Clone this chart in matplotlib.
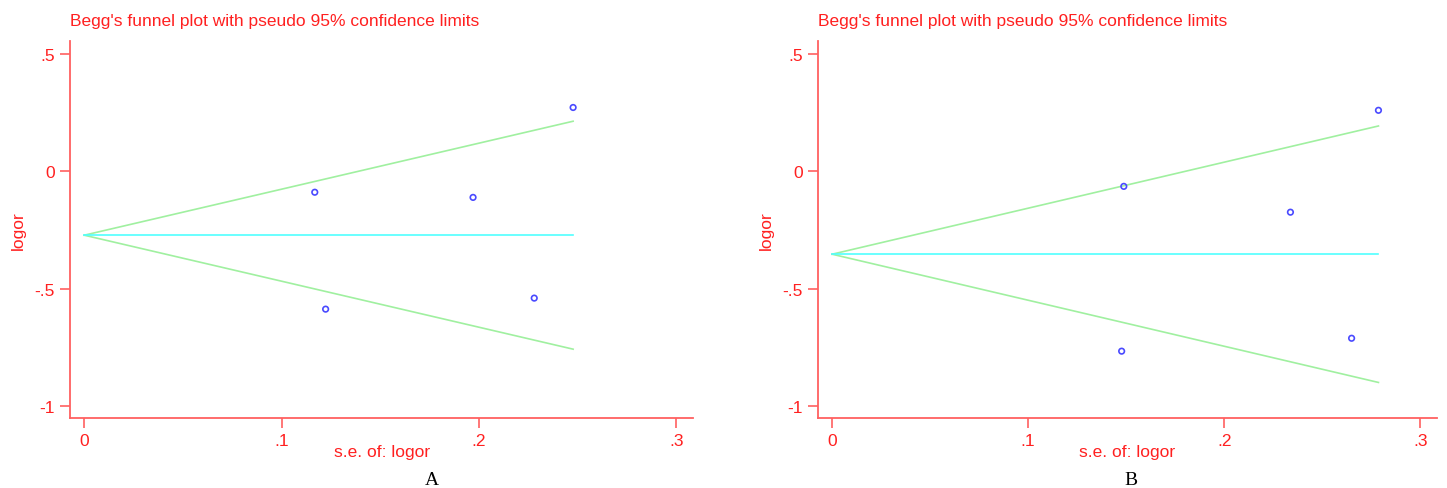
import matplotlib.pyplot as plt

# 两组研究：标准误 与 logor
se_a = [0.1168, 0.1223, 0.197, 0.228, 0.2477]
logor_a = [-0.089, -0.587, -0.111, -0.540, 0.272]
pooled_a = -0.272

se_b = [0.1477, 0.1488, 0.2338, 0.265, 0.2787]
logor_b = [-0.766, -0.064, -0.174, -0.711, 0.260]
pooled_b = -0.353

x_ticks = [0, 0.1, 0.2, 0.3]
x_labels = ["0", ".1", ".2", ".3"]
y_ticks = [-1, -0.5, 0, 0.5]
y_labels = ["-1", "-.5", "0", ".5"]

RED = "#ff2020"
SPINE = "#ff6060"
plt.rcParams['font.family'] = ['Liberation Sans', 'DejaVu Sans']

fig = plt.figure(figsize=(14.47, 4.89), dpi=100)
panels = [
    (se_a, logor_a, pooled_a, [0.0484, 0.143, 0.4306, 0.771], "A", 0.2985),
    (se_b, logor_b, pooled_b, [0.5653, 0.143, 0.4277, 0.771], "B", 0.7815),
]

for se, logor, pooled, rect, tag, tag_x in panels:
    ax = fig.add_axes(rect)
    smax = max(se)
    # 伪 95% 置信限
    ax.plot([0, smax], [pooled, pooled + 1.96 * smax], color="#a0f0a0", lw=1.2)
    ax.plot([0, smax], [pooled, pooled - 1.96 * smax], color="#a0f0a0", lw=1.2)
    ax.plot([0, smax], [pooled, pooled], color="#50ffff", lw=1.2)
    ax.scatter(se, logor, s=16, facecolors="none", edgecolors="#4a4aff", linewidths=1.2, zorder=3)

    ax.set_xlim(-0.0072, 0.3085)
    ax.set_ylim(-1.051, 0.555)
    ax.set_xticks(x_ticks)
    ax.set_xticklabels(x_labels)
    ax.set_yticks(y_ticks)
    ax.set_yticklabels(y_labels)
    for s in ["top", "right"]:
        ax.spines[s].set_visible(False)
    for s in ["left", "bottom"]:
        ax.spines[s].set_color(SPINE)
        ax.spines[s].set_linewidth(1.3)
    ax.tick_params(colors=SPINE, labelcolor=RED, length=7, width=1.2, labelsize=12.5, pad=4)
    ax.set_xlabel("s.e. of: logor", color=RED, fontsize=12.5, labelpad=-3)
    ax.set_ylabel("logor", color=RED, fontsize=12.5, labelpad=6)
    ax.text(0.0, 1.035, "Begg's funnel plot with pseudo 95% confidence limits",
            transform=ax.transAxes, color=RED, fontsize=12.5, ha="left", va="bottom")
    fig.text(tag_x, 0.0, tag, family=['Liberation Serif', 'DejaVu Serif'], fontsize=14,
             ha="center", va="bottom", color="black")

fig.savefig("out.png", dpi=100)
